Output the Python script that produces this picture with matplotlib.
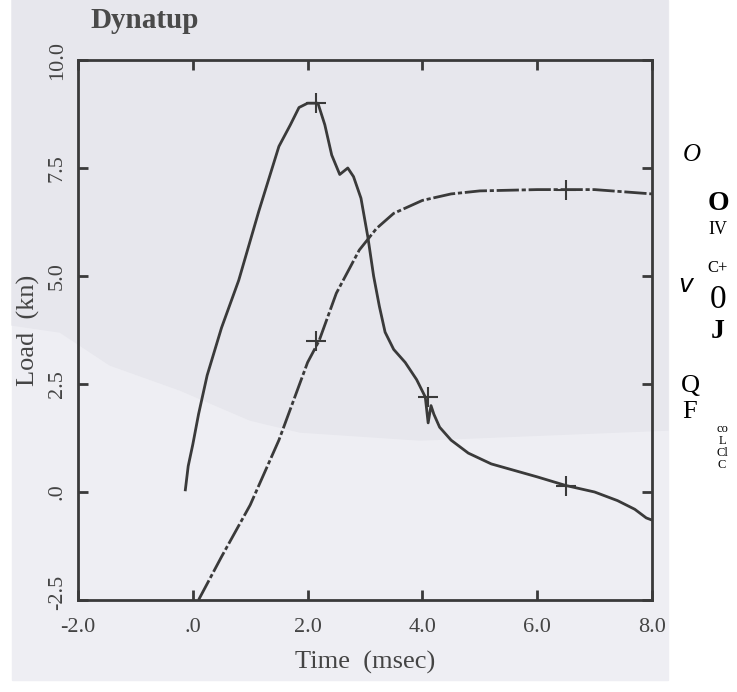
import matplotlib
matplotlib.use("Agg")
import matplotlib.pyplot as plt
import matplotlib.transforms as mtransforms
from matplotlib.patches import Rectangle, Polygon

# load trace (kN) vs time (msec)
t_load = [-0.13, -0.08, 0.0, 0.1, 0.25, 0.5, 0.8, 1.15, 1.5, 1.7, 1.85, 2.0, 2.18,
          2.3, 2.42, 2.56, 2.7, 2.8, 2.93, 3.05, 3.15, 3.25, 3.35, 3.5, 3.7, 3.9,
          4.05, 4.1, 4.15, 4.2, 4.3, 4.5, 4.8, 5.2, 5.6, 6.0, 6.5, 7.0, 7.4, 7.7,
          7.9, 8.0]
load = [0.05, 0.6, 1.1, 1.8, 2.7, 3.8, 4.9, 6.5, 8.0, 8.5, 8.9, 9.0, 9.0,
        8.5, 7.8, 7.35, 7.5, 7.3, 6.8, 5.9, 5.0, 4.3, 3.7, 3.3, 3.0, 2.6,
        2.2, 1.6, 2.0, 1.8, 1.5, 1.2, 0.9, 0.65, 0.5, 0.35, 0.15, 0.0, -0.2, -0.4,
        -0.6, -0.65]

# energy trace (dash-dot)
t_energy = [0.1, 0.5, 1.0, 1.5, 2.0, 2.2, 2.5, 2.9, 3.2, 3.5, 4.0, 4.5, 5.0, 6.0, 7.0, 8.0]
energy = [-2.5, -1.5, -0.3, 1.2, 3.0, 3.5, 4.6, 5.6, 6.1, 6.45, 6.75, 6.9, 6.97, 7.0, 7.0, 6.9]

# cursor marks
mark_t = [2.15, 4.1, 6.5, 2.15, 6.5]
mark_y = [9.0, 2.2, 0.15, 3.5, 7.0]

xticks = [-2.0, 0.0, 2.0, 4.0, 6.0, 8.0]
xlabels = ["-2.0", ".0", "2.0", "4.0", "6.0", "8.0"]
yticks = [-2.5, 0.0, 2.5, 5.0, 7.5, 10.0]
ylabels = ["-2.5", ".0", "2.5", "5.0", "7.5", "10.0"]

W, H = 737, 692
ink = "#3a3a3a"
plt.rcParams['font.family'] = ['Liberation Serif', 'DejaVu Serif']

fig = plt.figure(figsize=(W / 100, H / 100), dpi=100)
fig.patch.set_facecolor("white")

# scanned paper
fig.patches.append(Rectangle((12 / W, 1 - 680 / H), 656 / W, 680 / H,
                             transform=fig.transFigure, color="#eeeef3", zorder=-10))
fig.patches.append(Polygon([(12 / W, 1 - 0 / H), (668 / W, 1 - 0 / H), (668 / W, 1 - 430 / H),
                            (420 / W, 1 - 440 / H), (300 / W, 1 - 432 / H), (250 / W, 1 - 420 / H),
                            (180 / W, 1 - 390 / H), (110 / W, 1 - 365 / H), (60 / W, 1 - 332 / H),
                            (12 / W, 1 - 325 / H)],
                           transform=fig.transFigure, color="#e7e7ed", zorder=-9))

ax = fig.add_axes([78 / W, 1 - 600 / H, 574 / W, 540 / H])
ax.patch.set_alpha(0)

ax.plot(t_load, load, color=ink, lw=2.0, solid_joinstyle="round")
ax.plot(t_energy, energy, color=ink, lw=2.0, linestyle=(0, (8, 1, 1.5, 1)))
ax.plot(mark_t, mark_y, linestyle="none", marker="+", markersize=14,
        markeredgewidth=1.5, color=ink)

ax.set_xlim(-2, 8)
ax.set_ylim(-2.5, 10)
ax.set_xticks(xticks)
ax.set_xticklabels(xlabels, fontsize=16, color="#444444")
ax.set_yticks(yticks)
ax.set_yticklabels(ylabels, fontsize=16, color="#444444", rotation=90, va="center")
ax.tick_params(direction="in", length=7, width=2, color=ink, top=True, right=True)
ax.tick_params(axis="x", pad=13)
ax.tick_params(axis="y", pad=8)
for s in ax.spines.values():
    s.set_color(ink)
    s.set_linewidth(2)

# lift the bottom y label a little, as in the scan
lab = ax.get_yticklabels()[0]
lab.set_transform(lab.get_transform() + mtransforms.ScaledTranslation(0, 8 / 100, fig.dpi_scale_trans))

ax.set_xlabel("Time  (msec)", fontsize=19, color="#444444", labelpad=10)
ax.set_ylabel("Load  (kn)", fontsize=19, color="#444444", labelpad=6)

fig.text(90 / W, 1 - 20 / H, "Dynatup", fontsize=21, fontweight="bold",
         color="#4a4a4a", va="center", ha="left")

# stray OCR glyphs at the right margin
def px(x, y, s, **kw):
    fig.text(x / W, 1 - y / H, s, ha="center", va="center", color="black", **kw)

px(692, 155, "O", fontsize=18, style="italic")
px(718, 203, "O", fontsize=20, fontweight="bold")
px(718, 230, "IV", fontsize=13)
px(718, 268, "C+", fontsize=12)
px(686, 285, "v", fontsize=18, style="italic", family="DejaVu Sans")
px(718, 300, "0", fontsize=24)
px(718, 332, "J", fontsize=20, fontweight="bold")
px(690, 386, "Q", fontsize=19)
px(690, 412, "F", fontsize=19)
px(722, 429, "co", fontsize=9)
px(722, 441, "L", fontsize=9)
px(722, 453, "Cl", fontsize=9)
px(722, 465, "C", fontsize=9)

fig.savefig("out.png", dpi=100)
